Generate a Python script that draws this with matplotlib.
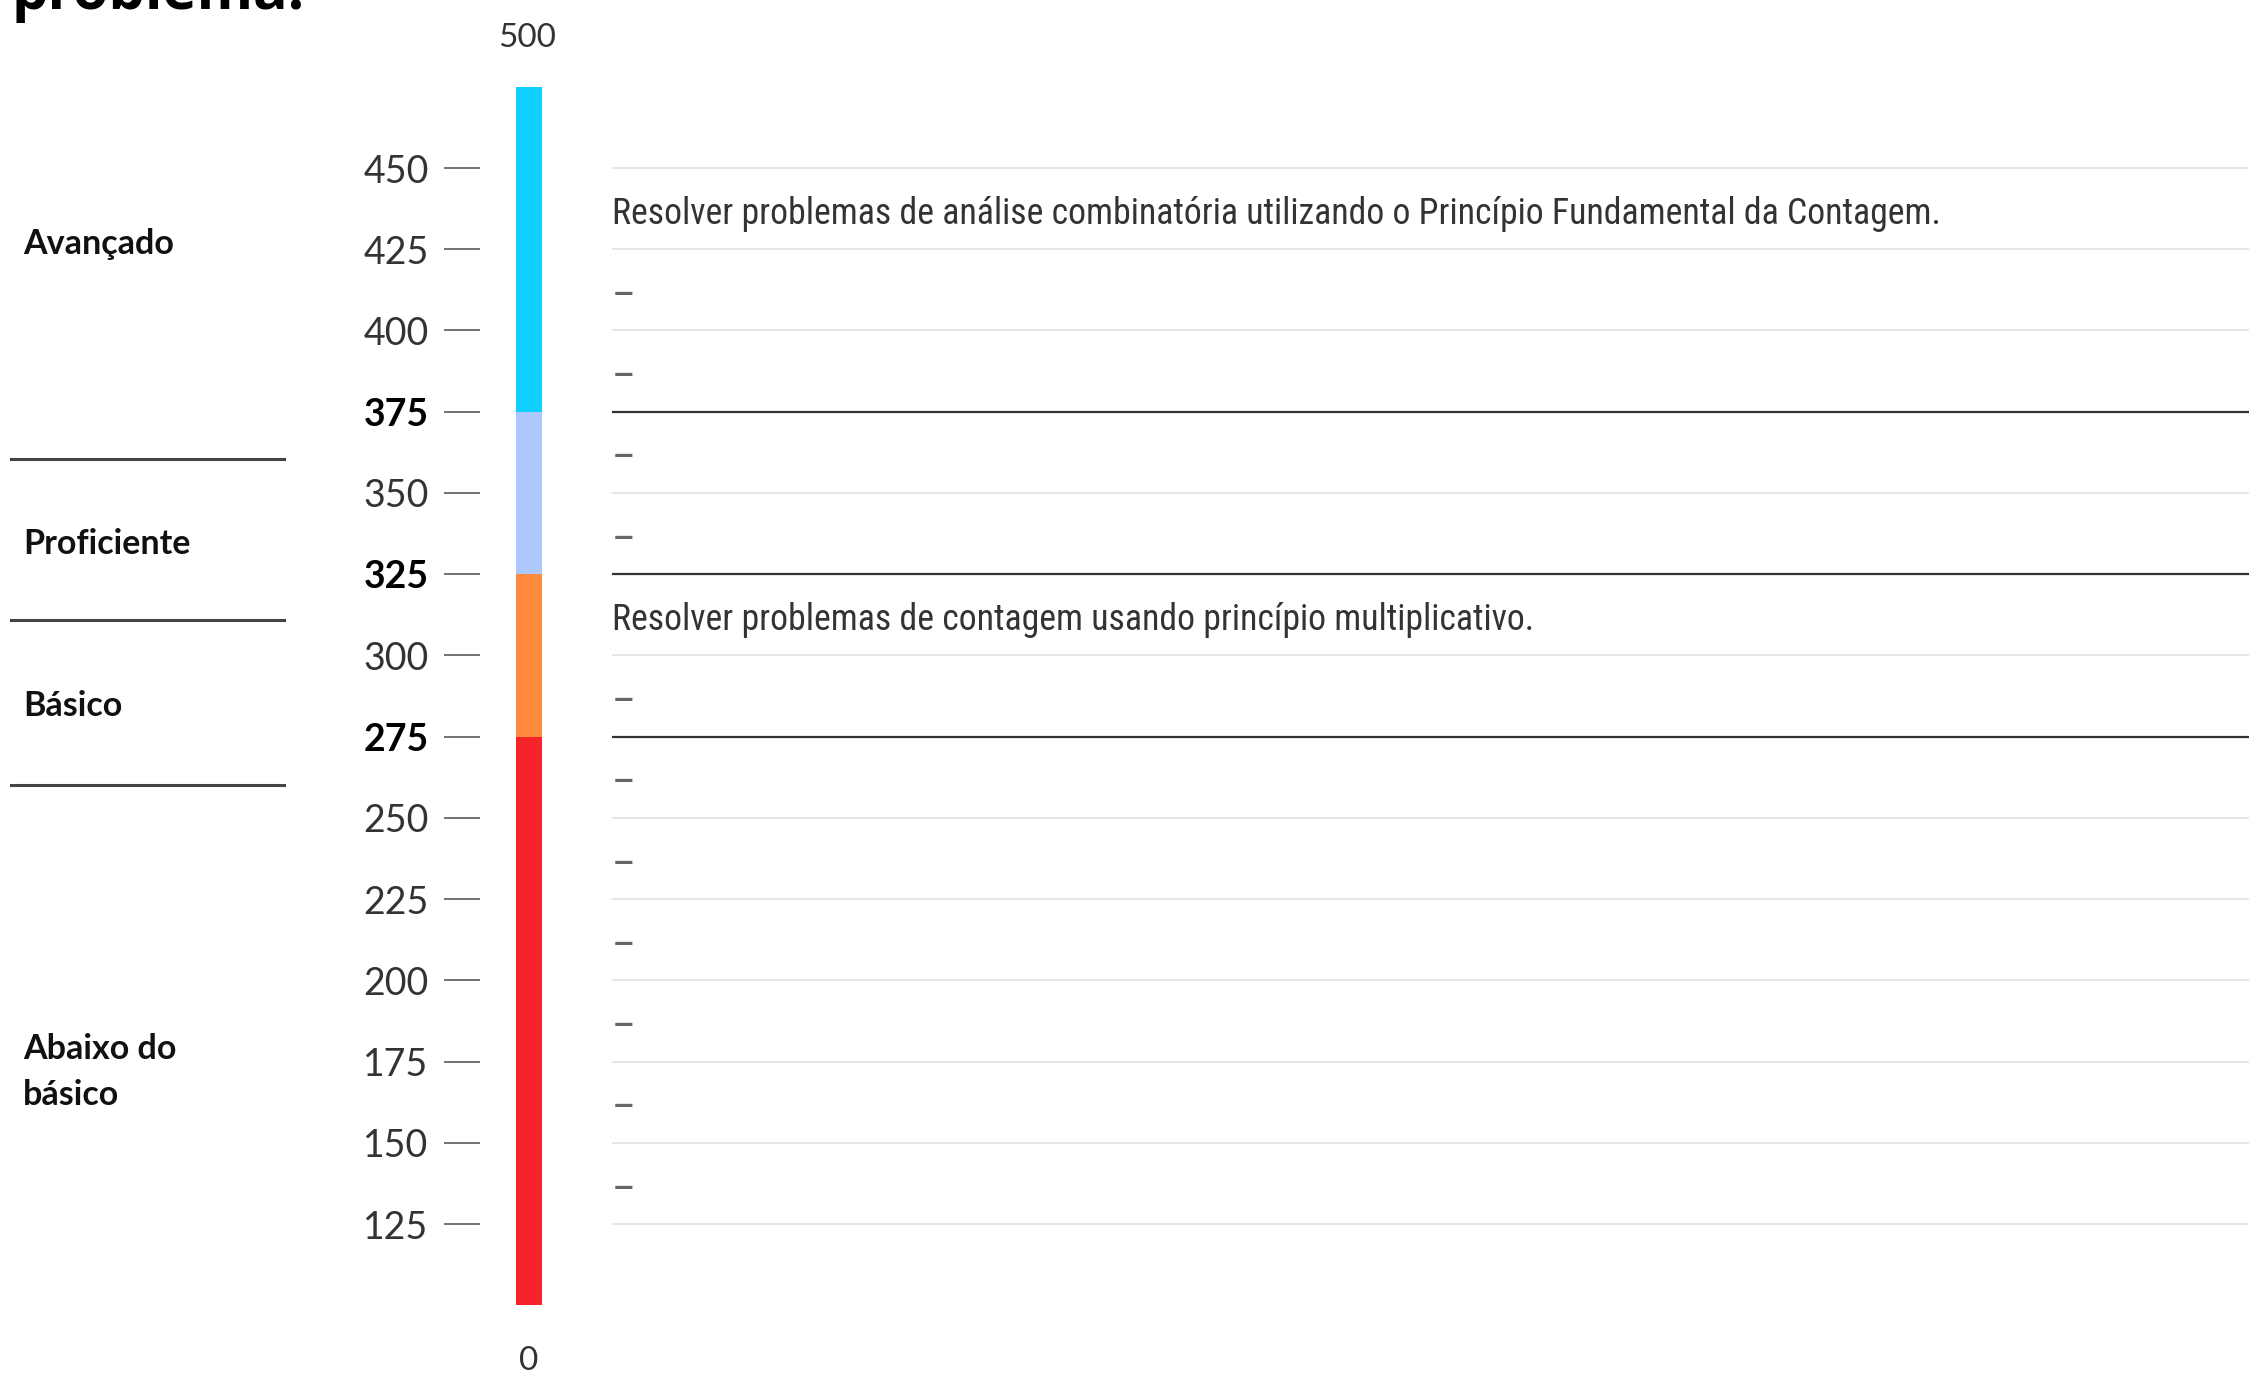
import matplotlib.pyplot as plt
from matplotlib import font_manager
from matplotlib.lines import Line2D

# escala de proficiência
level_names = ["Abaixo do\nbásico", "Básico", "Proficiente", "Avançado"]
level_bounds = [100, 275, 325, 375, 475]
level_colors = ["#f5232a", "#ff8a3d", "#aec7ff", "#10d0ff"]
cutoffs = [275, 325, 375]

tick_values = list(range(125, 451, 25))
scale_top_label = "500"
scale_bottom_label = "0"

# descrição por faixa, de cima (425-450) para baixo (125-150)
row_texts = [
    "Resolver problemas de análise combinatória utilizando o Princípio Fundamental da Contagem.",
    "–", "–", "–", "–",
    "Resolver problemas de contagem usando princípio multiplicativo.",
    "–", "–", "–", "–", "–", "–", "–",
]

# fonte estreita, se houver
installed = {f.name for f in font_manager.fontManager.ttflist}
narrow = "Roboto"
for cand in ["Liberation Sans Narrow", "Roboto Condensed", "Open Sans Condensed", "Arial Narrow"]:
    if cand in installed:
        narrow = cand
        break

W, H = 2249, 1373
X0 = 480  # borda esquerda do eixo, px
fig = plt.figure(figsize=(W / 100, H / 100), dpi=100)
ax = fig.add_axes([X0 / W, 0, 1 - X0 / W, 1])
ax.set_ylim(79.2, 501.7)
ax.set_xlim(0, W - X0)

# barra colorida
for lo, hi, c in zip(level_bounds[:-1], level_bounds[1:], level_colors):
    ax.bar(49, hi - lo, bottom=lo, width=26, color=c, linewidth=0)

ax.text(47, 490, scale_top_label, ha="center", va="center", fontsize=24,
        color="#333333", family="Lato")
ax.text(49, 83, scale_bottom_label, ha="center", va="center", fontsize=24,
        color="#333333", family="Lato")

# eixo
ax.set_yticks(tick_values)
ax.set_yticklabels([str(v) for v in tick_values])
ax.tick_params(axis="y", length=26, width=1.3, color="#666666", pad=11,
               labelsize=27, labelcolor="#333333")
for lab, v in zip(ax.get_yticklabels(), tick_values):
    lab.set_family("Lato")
    if v in cutoffs:
        lab.set_fontweight("bold")
        lab.set_color("black")
ax.set_xticks([])
for s in ax.spines.values():
    s.set_visible(False)

# linhas das faixas
x_row = 612 - X0
for v in tick_values:
    if v in cutoffs:
        ax.hlines(v, x_row, W - X0, colors="#333333", linewidth=1.6)
    else:
        ax.hlines(v, x_row, W - X0, colors="#e6e6e6", linewidth=1.4)

row_centers = [v + 12.5 for v in reversed(tick_values[:-1])]
desc = []
for yc, t in zip(row_centers, row_texts):
    if t == "–":
        ax.text(x_row, yc - 2.3, t, ha="left", va="center", fontsize=30,
                color="#666666", family=narrow)
    else:
        desc.append(ax.text(x_row, yc - 1.6, t, ha="left", va="center",
                            fontsize=26, color="#333333", family=narrow))

# rótulos dos níveis (coluna da esquerda)
label_y = [1072, 706, 544, 244]
for name, y in zip(level_names, label_y):
    fig.text(23 / W, 1 - y / H, name, ha="left", va="center", fontsize=24.5,
             fontweight="bold", family="Lato", color="#111111",
             linespacing=1.55)
for y in [459, 620, 785]:
    fig.add_artist(Line2D([11 / W, 284 / W], [1 - y / H, 1 - y / H],
                          color="#444444", linewidth=2.2))

title = fig.text(12 / W, 1 - 9 / H, "problema.", ha="left", va="baseline",
                 fontsize=40, fontweight="bold", family="Open Sans",
                 color="black")

# ajustar larguras ao original
r = fig.canvas.get_renderer()
w = desc[0].get_window_extent(r).width
for t in desc:
    t.set_fontsize(26 * 1326 / w)
w = title.get_window_extent(r).width
title.set_fontsize(40 * 293 / w)

fig.savefig("out.png", dpi=100)
